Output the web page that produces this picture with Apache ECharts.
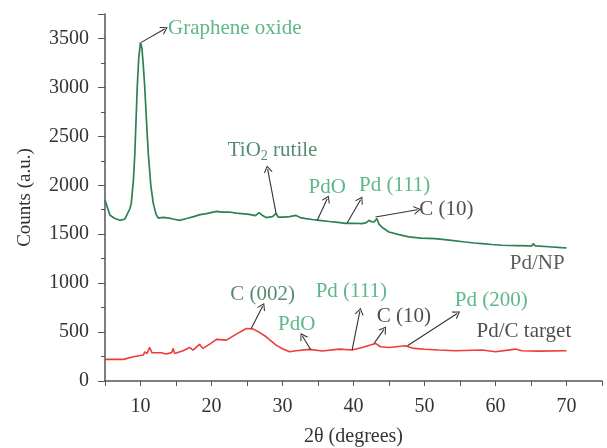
<!DOCTYPE html>
<html>
<head>
<meta charset="utf-8">
<script src="https://cdn.jsdelivr.net/npm/echarts@6/dist/echarts.min.js"></script>
<style>
  html, body { margin: 0; padding: 0; background: #fff; }
  #chart { width: 607px; height: 448px; }
</style>
</head>
<body>
<div id="chart"></div>
<script>
// Pd/NP (green) trace
var npX = [5, 5.7, 6.4, 7.1, 7.8, 8.5, 8.7, 9.0, 9.2, 9.4, 9.54, 9.75, 10.0, 10.2, 10.4, 10.6, 10.85, 11.1, 11.45, 11.8,
  12.2, 12.5, 13.2, 14.0, 14.6, 15.5, 16.5, 17.5, 18.4, 19.3, 20.7, 21.5, 22.5, 23.5, 25.3, 26.2, 26.7, 27.2, 27.7, 28.6,
  29.1, 29.4, 30.2, 31.0, 31.9, 32.5, 33.3, 34.2, 35.2, 36.6, 37.8, 38.9, 40.0, 41.2, 41.8, 42.2, 42.5, 42.9, 43.3, 43.6,
  44.2, 45, 46.4, 47.8, 49.5, 51.5, 53.5, 55.7, 57.0, 58.1, 59.5, 60.9, 63, 65.1, 65.3, 65.6, 67.5, 69.3, 70];
var npY = [1850, 1693, 1660, 1642, 1655, 1760, 1815, 2050, 2320, 2720, 3000, 3300, 3460, 3400, 3220, 3000, 2650, 2320, 2000, 1815,
  1700, 1665, 1672, 1665, 1655, 1642, 1660, 1680, 1700, 1710, 1733, 1725, 1727, 1715, 1703, 1690, 1720, 1690, 1670, 1680,
  1712, 1675, 1675, 1680, 1692, 1670, 1660, 1650, 1642, 1630, 1620, 1610, 1612, 1608, 1618, 1642, 1628, 1625, 1660, 1600,
  1560, 1523, 1495, 1472, 1460, 1455, 1440, 1420, 1410, 1404, 1395, 1387, 1384, 1380, 1404, 1380, 1372, 1363, 1360];

// Pd/C target (red) trace
var pcX = [5, 7.6, 9, 10.4, 10.6, 10.9, 11.3, 11.6, 11.8, 12.95, 13.6, 14.4, 14.6, 14.8, 16.0, 16.9, 17.4, 18.3, 18.8, 19.8,
  20.7, 22.1, 23.5, 24.9, 25.8, 26.8, 27.7, 29.1, 30.0, 31.0, 31.9, 33.8, 35.6, 38.0, 39.8, 41.2, 42.4, 43.1, 43.8, 45.0,
  47.3, 48.5, 50.0, 52.0, 54.3, 58.1, 60.0, 62.8, 63.7, 66.0, 70];
var pcY = [221, 221, 248, 265, 299, 280, 343, 290, 282, 289, 275, 290, 333, 282, 310, 343, 316, 374, 333, 380,
  425, 418, 479, 537, 533, 495, 452, 367, 330, 299, 309, 323, 306, 326, 316, 343, 367, 384, 350, 343,
  360, 333, 325, 316, 309, 316, 299, 326, 309, 305, 309];

var xTicks = [10, 20, 30, 40, 50, 60, 70];
var yTicks = [0, 500, 1000, 1500, 2000, 2500, 3000, 3500];

// annotation arrows: [fromX, fromY, toX, toY]
var arrowsNP = [[10.1, 3460, 13.4, 3596], [29.1, 1710, 27.9, 2168], [34.9, 1642, 36.3, 1863],
  [39.1, 1614, 41.0, 1853], [43.1, 1675, 49.0, 1750]];
var arrowsPC = [[25.6, 537, 27.2, 765], [34.0, 316, 32.8, 459], [39.8, 316, 40.9, 714],
  [42.9, 384, 44.3, 527], [47.6, 360, 54.6, 690]];

// annotation texts: [x, y, text, colour kind, anchor]
var notes = [
  [13.8, 3597, 'Graphene oxide', 'light', 'left'],
  [28.6, 2355, '{a|TiO}{s|2}{a| rutile}', 'dark', 'center'],
  [36.3, 1981, 'PdO', 'light', 'center'],
  [45.8, 1998, 'Pd (111)', 'light', 'center'],
  [49.2, 1750, 'C (10)', 'black', 'left'],
  [69.8, 1200, 'Pd/NP', 'gray', 'right'],
  [27.2, 887, 'C (002)', 'dark', 'center'],
  [32.0, 581, 'PdO', 'light', 'center'],
  [39.7, 910, 'Pd (111)', 'light', 'center'],
  [47.1, 663, 'C (10)', 'black', 'center'],
  [59.4, 819, 'Pd (200)', 'light', 'center'],
  [64.0, 503, 'Pd/C target', 'black', 'center']
];

var FONT = '"Liberation Serif", "DejaVu Serif", serif';
var textColors = { light: '#33a56c', dark: '#2b6e4e', black: '#222', gray: '#333' };
var chevron = 'path://M0,10 L5,0 L10,10 L8.6,10 L5,2.6 L1.4,10 Z';

function zip(xs, ys) {
  return xs.map(function (x, i) { return [x, ys[i]]; });
}

function arrowData(list) {
  return list.map(function (a) {
    return [{ coord: [a[0], a[1]] }, { coord: [a[2], a[3]] }];
  });
}

var noteData = notes.map(function (n) {
  var pos = n[4] === 'left' ? 'right' : (n[4] === 'right' ? 'left' : 'inside');
  return {
    value: [n[0], n[1]],
    label: {
      show: true,
      position: pos,
      distance: 0,
      formatter: n[2],
      color: textColors[n[3]],
      fontFamily: FONT,
      fontSize: 21,
      rich: {
        a: { fontFamily: FONT, fontSize: 21, color: textColors[n[3]] },
        s: { fontFamily: FONT, fontSize: 14, color: textColors[n[3]], padding: [11, 0, 0, 0] }
      }
    }
  };
});

var arrowLine = {
  silent: true,
  animation: false,
  symbol: ['none', chevron],
  symbolSize: [9, 7],
  lineStyle: { color: '#333', width: 1.1, type: 'solid' },
  label: { show: false },
  emphasis: { disabled: true }
};

var chart = echarts.init(document.getElementById('chart'));
chart.setOption({
  animation: false,
  backgroundColor: '#fff',
  grid: { left: 105, right: 5, top: 14, bottom: 67, containLabel: false, outerBoundsMode: 'none' },
  xAxis: {
    type: 'value',
    min: 5,
    max: 75,
    interval: 5,
    name: '2θ (degrees)',
    nameLocation: 'middle',
    nameGap: 46,
    nameTextStyle: { fontFamily: FONT, fontSize: 20, color: '#333' },
    axisLine: { show: true, lineStyle: { color: '#555', width: 1.5 } },
    axisTick: { show: true, length: 5, lineStyle: { color: '#555' } },
    axisLabel: {
      margin: 16,
      fontFamily: FONT, fontSize: 20, color: '#333',
      formatter: function (v) { return xTicks.indexOf(v) >= 0 ? String(v) : ''; }
    },
    splitLine: { show: false }
  },
  yAxis: {
    type: 'value',
    min: 0,
    max: 3750,
    interval: 500,
    name: 'Counts (a.u.)',
    nameLocation: 'middle',
    nameGap: 70,
    nameTextStyle: { fontFamily: FONT, fontSize: 19, color: '#333' },
    axisLine: { show: true, lineStyle: { color: '#555', width: 1.5 } },
    axisTick: { show: true, length: 7, lineStyle: { color: '#555' } },
    minorTick: { show: true, splitNumber: 2, length: 4, lineStyle: { color: '#555' } },
    axisLabel: {
      margin: 16,
      fontFamily: FONT, fontSize: 20, color: '#333',
      formatter: function (v) { return yTicks.indexOf(v) >= 0 ? String(v) : ''; }
    },
    splitLine: { show: false }
  },
  series: [
    {
      name: 'Pd/NP',
      type: 'line',
      data: zip(npX, npY),
      showSymbol: false,
      lineStyle: { color: '#2c8052', width: 1.7 },
      markLine: Object.assign({ data: arrowData(arrowsNP) }, arrowLine)
    },
    {
      name: 'Pd/C target',
      type: 'line',
      data: zip(pcX, pcY),
      showSymbol: false,
      lineStyle: { color: '#ee3b3b', width: 1.6 },
      markLine: Object.assign({ data: arrowData(arrowsPC) }, arrowLine)
    },
    {
      name: 'notes',
      type: 'scatter',
      symbolSize: 1,
      itemStyle: { color: 'rgba(0,0,0,0)' },
      silent: true,
      data: noteData
    }
  ]
});
</script>
</body>
</html>
